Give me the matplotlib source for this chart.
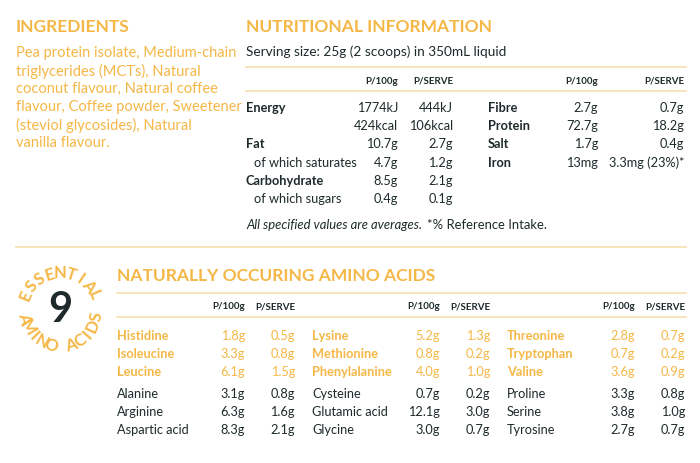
import numpy as np
import matplotlib
matplotlib.use("Agg")
import matplotlib.pyplot as plt

ORANGE = "#F5B746"
DARK = "#1E2A2B"
LINE = "#F8DFAE"
FONT = "Lato"

ingredients_lines = ["Pea protein isolate, Medium-chain", "triglycerides (MCTs), Natural",
                     "coconut flavour, Natural coffee", "flavour, Coffee powder, Sweetener",
                     "(steviol glycosides), Natural", "vanilla flavour."]
nut_left_labels = ["Energy", "", "Fat", "of which saturates", "Carbohydrate", "of which sugars"]
nut_left_indent = [False, False, False, True, False, True]
nut_left_100g = ["1774kJ", "424kcal", "10.7g", "4.7g", "8.5g", "0.4g"]
nut_left_serve = ["444kJ", "106kcal", "2.7g", "1.2g", "2.1g", "0.1g"]
nut_right_labels = ["Fibre", "Protein", "Salt", "Iron"]
nut_right_100g = ["2.7g", "72.7g", "1.7g", "13mg"]
nut_right_serve = ["0.7g", "18.2g", "0.4g", "3.3mg (23%)*"]
amino_names = [["Histidine", "Isoleucine", "Leucine", "Alanine", "Arginine", "Aspartic acid"],
               ["Lysine", "Methionine", "Phenylalanine", "Cysteine", "Glutamic acid", "Glycine"],
               ["Threonine", "Tryptophan", "Valine", "Proline", "Serine", "Tyrosine"]]
amino_100g = [["1.8g", "3.3g", "6.1g", "3.1g", "6.3g", "8.3g"],
              ["5.2g", "0.8g", "4.0g", "0.7g", "12.1g", "3.0g"],
              ["2.8g", "0.7g", "3.6g", "3.3g", "3.8g", "2.7g"]]
amino_serve = [["0.5g", "0.8g", "1.5g", "0.8g", "1.6g", "2.1g"],
               ["1.3g", "0.2g", "1.0g", "0.2g", "3.0g", "0.7g"],
               ["0.7g", "0.2g", "0.9g", "0.8g", "1.0g", "0.7g"]]

fig = plt.figure(figsize=(7, 4.64), dpi=100)
ax = fig.add_axes([0, 0, 1, 1])
ax.set_xlim(0, 700); ax.set_ylim(464, 0); ax.axis("off")

def t(x, y, s, color=DARK, size=9.2, weight="normal", ha="left", style="normal", **kw):
    ax.text(x, y, s, color=color, fontsize=size, fontweight=weight, ha=ha, va="center",
            family=FONT, style=style, **kw)

def hline(y, x0, x1):
    ax.plot([x0, x1], [y, y], color=LINE, lw=1.2)

# Ingredients
t(16, 27, "INGREDIENTS", ORANGE, 12.5, "bold")
for i, s in enumerate(ingredients_lines):
    t(16, 53 + i * 18, s, ORANGE, 10.5)

# Nutrition
t(246, 27, "NUTRITIONAL INFORMATION", ORANGE, 12.5, "bold")
t(246, 52, "Serving size: 25g (2 scoops) in 350mL liquid", DARK, 9.8)
hline(68, 246, 686); hline(92, 246, 686)
for x in (398, 598):
    t(x, 81, "P/100g", DARK, 7, "bold", ha="right")
for x in (453, 684):
    t(x, 81, "P/SERVE", DARK, 7, "bold", ha="right")
for i in range(len(nut_left_labels)):
    y = 108 + i * 18.2
    t(254 if nut_left_indent[i] else 246, y, nut_left_labels[i], DARK, 9.2,
      "bold" if not nut_left_indent[i] else "normal")
    t(398, y, nut_left_100g[i], ha="right")
    t(453, y, nut_left_serve[i], ha="right")
for i in range(len(nut_right_labels)):
    y = 108 + i * 18.2
    t(488, y, nut_right_labels[i], DARK, 9.2, "bold")
    t(598, y, nut_right_100g[i], ha="right")
    t(684, y, nut_right_serve[i], ha="right")
t(246, 225, "All specified values are averages.", DARK, 9.4, style="italic")
t(427, 225, "*% Reference Intake.", DARK, 9.4)

hline(248, 16, 686)

# Amino acids
t(117, 276, "NATURALLY OCCURING AMINO ACIDS", ORANGE, 12.5, "bold")
hline(294, 117, 686); hline(318, 117, 686)
label_x = [117, 312, 507]
c1_x = [245, 440, 635]
c2_x = [295, 490, 685]
for g in range(3):
    t(c1_x[g], 307, "P/100g", DARK, 7, "bold", ha="right")
    t(c2_x[g], 307, "P/SERVE", DARK, 7, "bold", ha="right")
    for i in range(6):
        y = 336 + i * 18 + (4 if i >= 3 else 0)
        col = ORANGE if i < 3 else DARK
        t(label_x[g], y, amino_names[g][i], col, 9.2, "bold" if i < 3 else "normal")
        t(c1_x[g], y, amino_100g[g][i], col, 9.2, ha="right")
        t(c2_x[g], y, amino_serve[g][i], col, 9.2, ha="right")

# Badge
cx, cy = 60, 310
t(cx, cy, "9", DARK, 30, "bold", ha="center")
top = "ESSENTIAL"
for i, ch in enumerate(top):
    a = np.deg2rad(157 - i * 16.75)
    ax.text(cx + 37 * np.cos(a), cy - 37 * np.sin(a), ch, color=ORANGE, fontsize=12,
            fontweight="bold", family=FONT, ha="center", va="center",
            rotation=np.rad2deg(a) - 90, rotation_mode="anchor")
bot = "AMINO ACIDS"
for i, ch in enumerate(bot):
    a = np.deg2rad(193 + i * 15.7)
    ax.text(cx + 37 * np.cos(a), cy - 37 * np.sin(a), ch, color=ORANGE, fontsize=12,
            fontweight="bold", family=FONT, ha="center", va="center",
            rotation=np.rad2deg(a) + 90, rotation_mode="anchor")

fig.savefig("out.png", dpi=100, facecolor="white")
